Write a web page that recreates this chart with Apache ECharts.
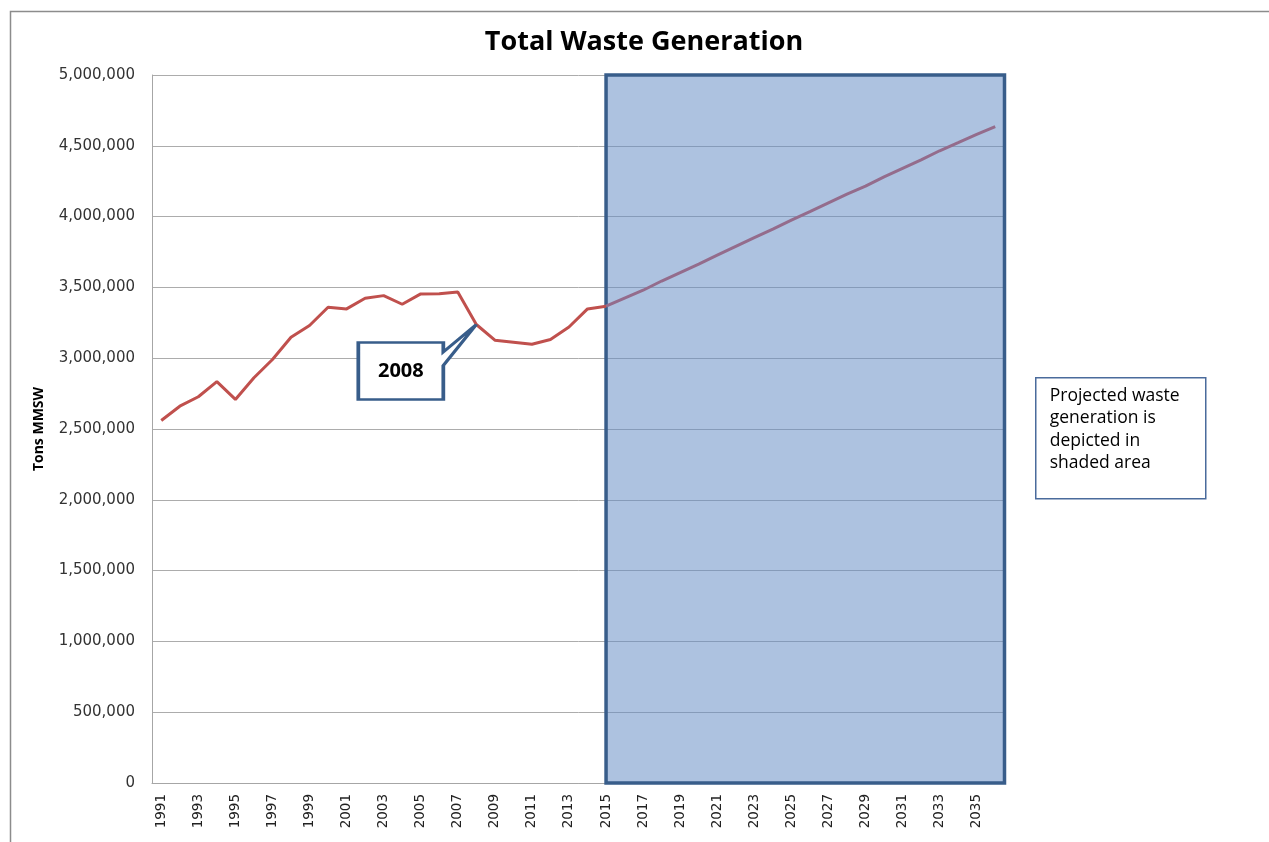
<!DOCTYPE html>
<html>
<head>
<meta charset="utf-8">
<title>Total Waste Generation</title>
<script src="https://cdn.jsdelivr.net/npm/echarts@6/dist/echarts.min.js"></script>
<style>
  html, body { margin: 0; padding: 0; background: #fff; }
  #chart { width: 1269px; height: 842px; }
</style>
</head>
<body>
<div id="chart"></div>
<script>
// category axis (one entry per year)
var years = ['1991', '1992', '1993', '1994', '1995', '1996', '1997', '1998', '1999', '2000',
  '2001', '2002', '2003', '2004', '2005', '2006', '2007', '2008', '2009', '2010',
  '2011', '2012', '2013', '2014', '2015', '2016', '2017', '2018', '2019', '2020',
  '2021', '2022', '2023', '2024', '2025', '2026', '2027', '2028', '2029', '2030',
  '2031', '2032', '2033', '2034', '2035', '2036'];

// actual tons, 1991 - 2015
var historicalYears = years.slice(0, 25);
var historical = [2560000, 2661000, 2728000, 2834000, 2709000, 2862000, 2991000, 3148000,
  3231000, 3360000, 3348000, 3423000, 3442000, 3381000, 3454000, 3455000, 3468000,
  3238000, 3127000, 3113000, 3099000, 3132000, 3220000, 3348000, 3367000];

// projected tons, 2015 - 2036
var projectedYears = years.slice(24);
var projected = [3367000, 3425000, 3480000, 3545000, 3605000, 3665000, 3728000, 3790000,
  3852000, 3912000, 3975000, 4035000, 4097000, 4158000, 4215000, 4280000, 4340000,
  4400000, 4465000, 4522000, 4580000, 4636000];

var yMax = 5000000;
var yStep = 500000;
var calloutYear = '2008';
var projectionStart = '2015';

var chart = echarts.init(document.getElementById('chart'));

// wedge callout drawn as a marker symbol, tip sits on the data point
var calloutPath = 'path://M-118 18 L-33 18 L-33 27.5 L0 0 L-33 41 L-33 75 L-118 75 Z';

var option = {
  animation: false,
  backgroundColor: '#fff',
  title: {
    text: 'Total Waste Generation',
    left: 639,
    textAlign: 'center',
    top: 24,
    textStyle: { fontFamily: 'Open Sans', fontWeight: 'bold', fontSize: 27, color: '#000' }
  },
  grid: { left: 152, right: 264.5, top: 75, bottom: 59, containLabel: false },
  xAxis: [
    {
      type: 'category',
      data: years,
      boundaryGap: true,
      axisLine: { lineStyle: { color: '#A6A6A6', width: 1 } },
      axisTick: { show: false },
      axisLabel: {
        interval: 1,
        rotate: 90,
        margin: 11,
        fontFamily: 'DejaVu Sans',
        fontSize: 13.5,
        color: '#222'
      },
      splitLine: { show: false }
    },
    {
      type: 'value',
      min: 0,
      max: years.length,
      show: false
    }
  ],
  yAxis: {
    type: 'value',
    min: 0,
    max: yMax,
    interval: yStep,
    name: 'Tons MMSW',
    nameLocation: 'middle',
    nameGap: 106,
    nameTextStyle: { fontFamily: 'Open Sans', fontWeight: 'bold', fontSize: 14, color: '#000' },
    axisLine: { show: true, lineStyle: { color: '#A6A6A6', width: 1 } },
    axisTick: { show: false },
    axisLabel: {
      margin: 17,
      fontFamily: 'DejaVu Sans',
      fontSize: 15,
      color: '#333',
      formatter: function (v) { return v.toLocaleString('en-US'); }
    },
    splitLine: { lineStyle: { color: '#ACACAC', width: 1 } }
  },
  series: [
    {
      name: 'Projection area',
      type: 'line',
      xAxisIndex: 1,
      data: [],
      silent: true,
      markArea: {
        silent: true,
        itemStyle: {
          color: 'rgba(100,140,196,0.53)',
          borderColor: '#385D8A',
          borderWidth: 3.5
        },
        data: [[
          { xAxis: years.indexOf(projectionStart) + 0.5, yAxis: yMax },
          { xAxis: years.length, yAxis: 0 }
        ]]
      }
    },
    {
      name: 'Total waste',
      type: 'line',
      data: historicalYears.map(function (y, i) { return [y, historical[i]]; }),
      showSymbol: false,
      lineStyle: { color: '#C0504D', width: 3 },
      z: 3,
      markPoint: {
        silent: true,
        symbol: calloutPath,
        symbolSize: [118, 75],
        symbolOffset: [-59, 37.5],
        itemStyle: { color: '#fff', borderColor: '#385D8A', borderWidth: 3 },
        label: {
          show: true,
          position: 'inside',
          offset: [-16.5, 9],
          formatter: calloutYear,
          fontFamily: 'Open Sans',
          fontWeight: 'bold',
          fontSize: 20,
          color: '#000'
        },
        data: [{ coord: [calloutYear, historical[historicalYears.indexOf(calloutYear)]] }]
      }
    },
    {
      name: 'Projected waste',
      type: 'line',
      data: projectedYears.map(function (y, i) { return [y, projected[i]]; }),
      showSymbol: false,
      lineStyle: { color: '#946C8C', width: 3 },
      z: 3
    }
  ],
  graphic: [
    {
      type: 'rect',
      left: 8,
      top: 9,
      shape: { width: 1400, height: 1000 },
      style: { fill: null, stroke: '#8C8C8C', lineWidth: 1.5 },
      silent: true,
      z: -10
    },
    {
      type: 'group',
      left: 1035,
      top: 377,
      children: [
        {
          type: 'rect',
          shape: { width: 170, height: 121 },
          style: { fill: '#fff', stroke: '#4A6B9C', lineWidth: 1.5 }
        },
        {
          type: 'text',
          left: 14,
          top: 7,
          style: {
            text: 'Projected waste\ngeneration is\ndepicted in\nshaded area',
            fontFamily: 'Open Sans',
            fontSize: 17.5,
            lineHeight: 22.5,
            fill: '#000'
          }
        }
      ]
    }
  ]
};

chart.setOption(option);
</script>
</body>
</html>
